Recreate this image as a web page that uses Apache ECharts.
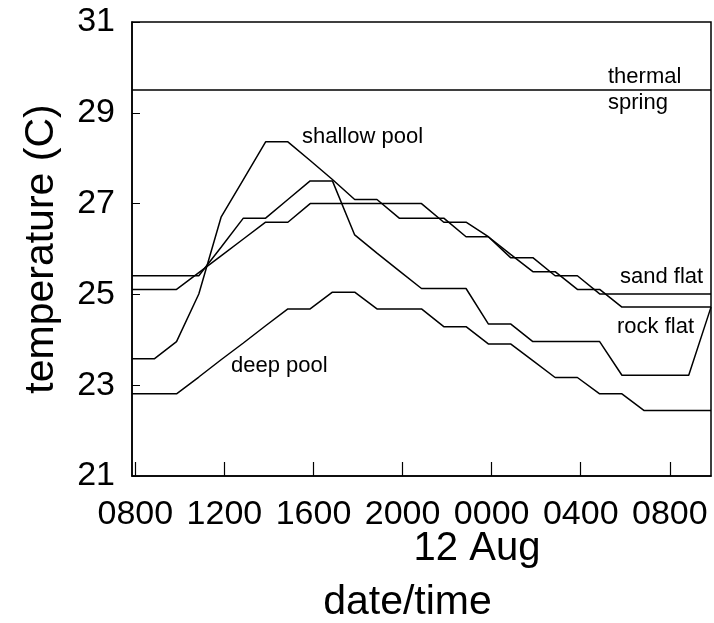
<!DOCTYPE html>
<html><head><meta charset="utf-8">
<script src="https://cdn.jsdelivr.net/npm/echarts@6/dist/echarts.min.js"></script>
<style>html,body{margin:0;padding:0;background:#fff}#c{width:714px;height:623px}</style>
</head><body><div id="c"></div>
<script>
// sample times, hours after 0800 on 11 Aug
const sampleHours = [-0.15,0.85,1.85,2.85,3.85,4.85,5.85,6.85,7.85,8.85,9.85,10.85,11.85,12.85,13.85,14.85,15.85,16.85,17.85,18.85,19.85,20.85,21.85,22.85,23.85,24.85,25.85];
const thermalSpring = [29.5,29.5,29.5,29.5,29.5,29.5,29.5,29.5,29.5,29.5,29.5,29.5,29.5,29.5,29.5,29.5,29.5,29.5,29.5,29.5,29.5,29.5,29.5,29.5,29.5,29.5,29.5];
const shallowPool = [23.58,23.58,23.96,25.01,26.70,27.53,28.36,28.36,27.95,27.53,27.09,27.09,26.68,26.68,26.68,26.27,26.27,25.88,25.5,25.5,25.11,25.11,24.72,24.72,24.72,24.72,24.72];
const sandFlat = [25.11,25.11,25.11,25.48,25.85,26.22,26.59,26.59,27.0,27.0,27.0,27.0,27.0,27.0,26.59,26.59,26.27,25.81,25.81,25.41,25.41,25.01,25.01,25.01,25.01,25.01,25.01];
const rockFlat = [25.41,25.41,25.41,25.41,26.04,26.68,26.68,27.09,27.5,27.5,26.31,25.91,25.52,25.13,25.13,25.13,24.35,24.35,23.96,23.96,23.96,23.96,23.22,23.22,23.22,23.22,24.72];
const deepPool = [22.81,22.81,22.81,23.18,23.56,23.93,24.31,24.68,24.68,25.05,25.05,24.68,24.68,24.68,24.29,24.29,23.91,23.91,23.54,23.17,23.17,22.81,22.81,22.44,22.44,22.44,22.44];
const tickHours = [0,4,8,12,16,20,24];
const tickLabels = ['0800','1200','1600','2000','0000','0400','0800'];
const yTicks = [21,23,25,27,29,31];

const FONT = 'Liberation Sans, Arial, Helvetica, sans-serif';
const pair = arr => sampleHours.map((h,i)=>[h,arr[i]]);
const lineSeries = (name, arr) => ({
  name, type:'line', data: pair(arr), symbol:'none', silent:true,
  lineStyle:{color:'#000', width:1.5}, animation:false
});
const chart = echarts.init(document.getElementById('c'), null, {renderer:'canvas'});
chart.setOption({
  animation:false,
  backgroundColor:'#fff',
  grid:{left:132, right:3, top:22, bottom:147, show:true, borderColor:'#000', borderWidth:1.5,
        containLabel:false, outerBoundsMode:'none'},
  xAxis:{
    type:'value', min:sampleHours[0], max:sampleHours[sampleHours.length-1],
    name:'date/time', nameLocation:'middle', nameGap:106,
    nameTextStyle:{fontFamily:FONT, fontSize:41, color:'#000', padding:[0,28,0,0]},
    axisLine:{onZero:false, lineStyle:{color:'#000', width:1.5}},
    splitLine:{show:false},
    axisTick:{show:true, inside:true, length:14, lineStyle:{color:'#000', width:1.2}, customValues: tickHours},
    axisLabel:{customValues: tickHours, margin:22, fontFamily:FONT, fontSize:34, color:'#000',
      formatter: v => { const i = tickHours.indexOf(v); return tickLabels[i]||''; }}
  },
  yAxis:{
    type:'value', min:yTicks[0], max:yTicks[yTicks.length-1], interval:2,
    name:'temperature (C)', nameLocation:'middle', nameGap:70, nameRotate:90,
    nameTextStyle:{fontFamily:FONT, fontSize:41, color:'#000'},
    axisLine:{show:true, onZero:false, lineStyle:{color:'#000', width:1.5}},
    splitLine:{show:false},
    axisTick:{show:true, inside:true, length:8, lineStyle:{color:'#000', width:1}},
    axisLabel:{margin:17, fontFamily:FONT, fontSize:34, color:'#000'}
  },
  graphic:[
    {type:'text', left:608, top:66, style:{text:'thermal', font:'22px '+FONT, fill:'#000'}},
    {type:'text', left:608, top:92, style:{text:'spring', font:'22px '+FONT, fill:'#000'}},
    {type:'text', left:302, top:126, style:{text:'shallow pool', font:'22px '+FONT, fill:'#000'}},
    {type:'text', left:620, top:266, style:{text:'sand flat', font:'22px '+FONT, fill:'#000'}},
    {type:'text', left:617, top:316, style:{text:'rock flat', font:'22px '+FONT, fill:'#000'}},
    {type:'text', left:231, top:355, style:{text:'deep pool', font:'22px '+FONT, fill:'#000'}},
    {type:'text', x:477, y:529, style:{text:'12 Aug', font:'40px '+FONT, fill:'#000', align:'center', verticalAlign:'top'}}
  ],
  series:[
    lineSeries('thermal spring', thermalSpring),
    lineSeries('shallow pool', shallowPool),
    lineSeries('sand flat', sandFlat),
    lineSeries('rock flat', rockFlat),
    lineSeries('deep pool', deepPool)
  ]
});
</script></body></html>
